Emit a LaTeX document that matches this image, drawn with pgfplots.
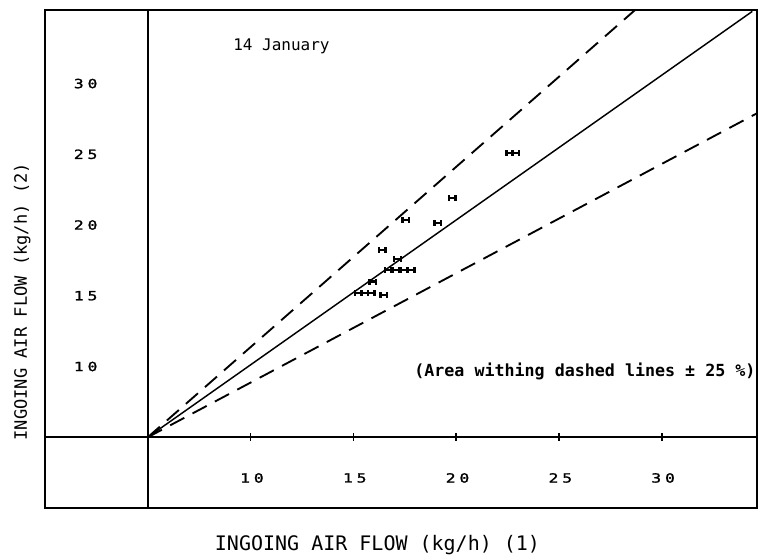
\documentclass[border=0pt]{standalone}
\usepackage{pgfplots}
\pgfplotsset{compat=1.18}
\usepackage{fontspec}
\setmainfont{DejaVu Sans Mono}
\newfontfamily\tickfont[LetterSpace=30, FakeStretch=1.3, FakeBold=1.5]{DejaVu Sans Mono}
\newfontfamily\lblfont{DejaVu Sans Mono}

\pgfdeclareplotmark{hbar}{%
 \pgfpathmoveto{\pgfqpoint{-\pgfplotmarksize}{0pt}}%
 \pgfpathlineto{\pgfqpoint{\pgfplotmarksize}{0pt}}%
 \pgfpathmoveto{\pgfqpoint{-\pgfplotmarksize}{-0.9\pgfplotmarksize}}%
 \pgfpathlineto{\pgfqpoint{-\pgfplotmarksize}{0.9\pgfplotmarksize}}%
 \pgfpathmoveto{\pgfqpoint{\pgfplotmarksize}{-0.9\pgfplotmarksize}}%
 \pgfpathlineto{\pgfqpoint{\pgfplotmarksize}{0.9\pgfplotmarksize}}%
 \pgfusepathqstroke}

\begin{document}
\begin{tikzpicture}
\begin{axis}[
  x=15.42pt, y=10.61pt,
  xmin=0, xmax=34.63, ymin=0, ymax=35.2,
  axis line style={line width=1.7pt},
  xtick={10,15,20,25,30}, ytick={10,15,20,25,30},
  xticklabels={10,15,20,25,30}, yticklabels={10,15,20,25,30},
  major tick length=0pt,
  xticklabel style={font=\tickfont\fontsize{9.5}{11}\selectfont, anchor=center, yshift=22.5pt, xshift=1pt},
  yticklabel style={font=\tickfont\fontsize{9.5}{11}\selectfont, anchor=center, xshift=30.5pt},
  xlabel={INGOING AIR FLOW (kg/h) (1)},
  ylabel={INGOING AIR FLOW (kg/h) (2)},
  xlabel style={font=\lblfont\fontsize{15}{17}\selectfont, at={(axis description cs:0.467,-0.074)}, anchor=center},
  ylabel style={font=\lblfont\fontsize{12.8}{15}\selectfont, at={(axis description cs:-0.032,0.414)}, anchor=center},
  clip=false,
]
% inner axes
\addplot[line width=1.5pt] coordinates {(5,0) (5,35.2)};
\addplot[line width=1.5pt] coordinates {(0,5) (34.63,5)};
\addplot[only marks, mark=|, mark size=3pt, mark options={line width=1.1pt}] coordinates {(10,5) (15,5) (20,5) (25,5) (30,5)};
% reference lines
\addplot[line width=1.1pt] coordinates {(5,5) (34.4,35.1)};
\addplot[line width=1.4pt, dash pattern=on 12pt off 7pt] coordinates {(5,5) (28.7,35.2)};
\addplot[line width=1.4pt, dash pattern=on 12pt off 7pt] coordinates {(5,5) (34.63,27.9)};
% measurements
\addplot[only marks, mark=hbar, mark size=2.5pt, mark options={line width=1.8pt}] coordinates {
 (22.6,25.1) (22.9,25.1)
 (19.8,21.9)
 (17.55,20.35)
 (19.1,20.15)
 (16.4,18.25)
 (17.15,17.6)
 (16.7,16.83) (17.07,16.83) (17.46,16.83) (17.8,16.83)
 (15.94,16.0)
 (15.24,15.2) (15.56,15.2) (15.87,15.2)
 (16.48,15.07)
};
\node[font=\lblfont\fontsize{12}{14}\selectfont] at (axis cs:11.5,32.6) {14 January};
\node[font=\lblfont\bfseries\fontsize{12.5}{14}\selectfont] at (axis cs:26.26,9.65) {(Area withing dashed lines ± 25 \%)};
\coordinate (sw) at (rel axis cs:0,0);
\coordinate (ne) at (rel axis cs:1,1);
\end{axis}
\pgfresetboundingbox
\path[use as bounding box] ([xshift=-33.75pt,yshift=-37.5pt]sw) rectangle ([xshift=1.5pt,yshift=7.5pt]ne);
\end{tikzpicture}
\end{document}
